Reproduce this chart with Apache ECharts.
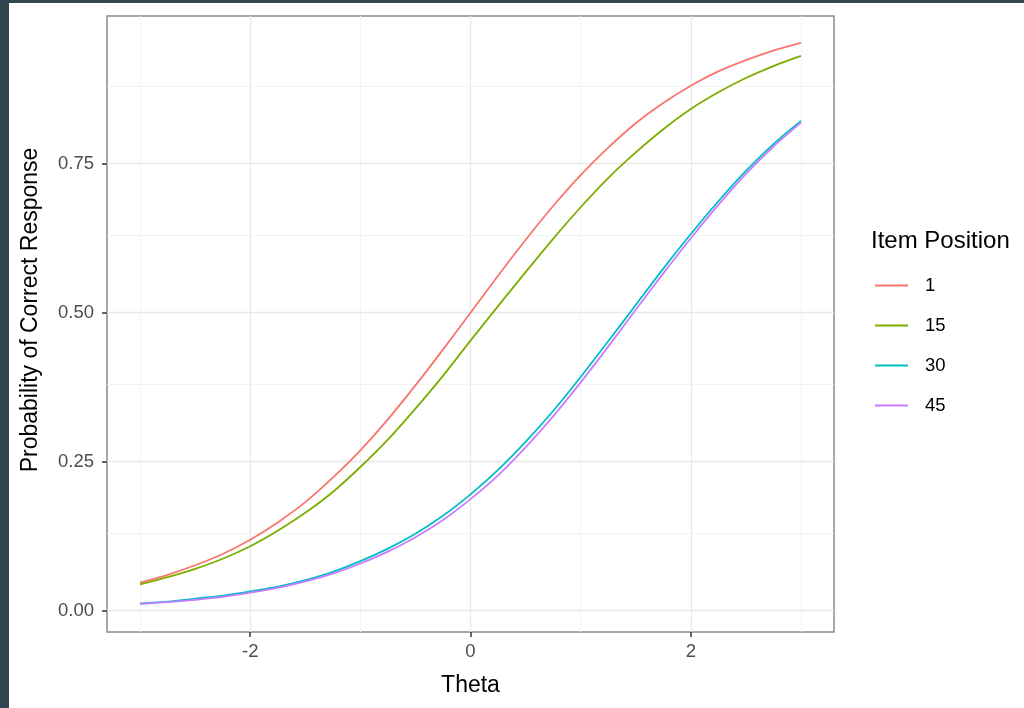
<!DOCTYPE html>
<html>
<head>
<meta charset="utf-8">
<script src="https://cdn.jsdelivr.net/npm/echarts@6/dist/echarts.min.js"></script>
<style>
  html, body { margin: 0; padding: 0; background: #33454f; width: 1024px; height: 708px; overflow: hidden; }
  #chart { position: absolute; left: 9px; top: 3px; width: 1015px; height: 705px; background: #ffffff; }
</style>
</head>
<body>
<div id="chart"></div>
<script>
// Item characteristic curves by item position
const theta = [-3, -2.75, -2.5, -2.25, -2, -1.75, -1.5, -1.25, -1, -0.75, -0.5, -0.25, 0,
               0.25, 0.5, 0.75, 1, 1.25, 1.5, 1.75, 2, 2.25, 2.5, 2.75, 3];

const pos1  = [0.047, 0.060, 0.076, 0.095, 0.119, 0.148, 0.182, 0.223, 0.269, 0.321, 0.378, 0.438, 0.500,
               0.562, 0.622, 0.679, 0.731, 0.777, 0.818, 0.852, 0.881, 0.905, 0.924, 0.940, 0.953];
const pos15 = [0.044, 0.056, 0.070, 0.087, 0.108, 0.134, 0.164, 0.199, 0.241, 0.287, 0.339, 0.394, 0.453,
               0.511, 0.568, 0.624, 0.677, 0.726, 0.769, 0.808, 0.842, 0.870, 0.894, 0.914, 0.931];
const pos30 = [0.012, 0.015, 0.020, 0.025, 0.032, 0.040, 0.051, 0.065, 0.083, 0.104, 0.129, 0.159, 0.195,
               0.236, 0.283, 0.335, 0.392, 0.452, 0.513, 0.574, 0.632, 0.687, 0.738, 0.783, 0.822];
const pos45 = [0.011, 0.014, 0.018, 0.023, 0.030, 0.038, 0.049, 0.062, 0.079, 0.099, 0.123, 0.152, 0.187,
               0.227, 0.274, 0.326, 0.383, 0.443, 0.505, 0.566, 0.625, 0.681, 0.733, 0.779, 0.819];

const seriesNames = ['1', '15', '30', '45'];
const seriesColors = ['#F8766D', '#7CAE00', '#00BFC4', '#C77CFF'];

const xTicks = [-2, 0, 2];
const xMinorGrid = [-3, -1, 1, 3];
const yTicks = [0, 0.25, 0.5, 0.75];
const yMinorGrid = [0.125, 0.375, 0.625, 0.875];

const xRange = [-3.3, 3.3];
const yRange = [-0.036, 0.998];

const majorGrid = { color: '#e8e8e8', width: 1.3, type: 'solid' };
const minorGrid = { color: '#f2f2f2', width: 1, type: 'solid' };

const gridLines = []
  .concat(xTicks.map(v => ({ xAxis: v, lineStyle: majorGrid })))
  .concat(xMinorGrid.map(v => ({ xAxis: v, lineStyle: minorGrid })))
  .concat(yTicks.map(v => ({ yAxis: v, lineStyle: majorGrid })))
  .concat(yMinorGrid.map(v => ({ yAxis: v, lineStyle: minorGrid })));

const curves = [pos1, pos15, pos30, pos45].map((vals, i) => ({
  name: seriesNames[i],
  type: 'line',
  data: theta.map((t, k) => [t, vals[k]]),
  smooth: 0.3,
  showSymbol: false,
  symbol: 'none',
  z: 3,
  lineStyle: { color: seriesColors[i], width: 1.8 },
  itemStyle: { color: seriesColors[i] },
  emphasis: { disabled: true }
}));

const chart = echarts.init(document.getElementById('chart'), null, { renderer: 'canvas' });

const tickLabelStyle = { color: '#4d4d4d', fontSize: 18.5, fontFamily: 'Liberation Sans' };
const titleStyle = { color: '#000000', fontSize: 23, fontFamily: 'Liberation Sans' };

chart.setOption({
  animation: false,
  backgroundColor: '#ffffff',
  title: {
    text: 'Item Position',
    left: 857,
    top: 221,
    textStyle: { color: '#000000', fontSize: 24, fontWeight: 'normal', fontFamily: 'Liberation Sans' }
  },
  legend: {
    orient: 'vertical',
    left: 861,
    top: 267,
    icon: 'rect',
    itemWidth: 33,
    itemHeight: 2,
    itemGap: 19,
    data: seriesNames,
    textStyle: { color: '#000000', fontSize: 18.5, fontFamily: 'Liberation Sans', padding: [0, 0, 0, 12], lineHeight: 21 }
  },
  grid: {
    left: 98,
    top: 13,
    right: 190,
    bottom: 76,
    show: true,
    borderColor: '#8a8a8a',
    borderWidth: 1.5,
    backgroundColor: 'transparent'
  },
  xAxis: {
    type: 'value',
    min: xRange[0],
    max: xRange[1],
    name: 'Theta',
    nameLocation: 'middle',
    nameGap: 42,
    nameTextStyle: titleStyle,
    axisLine: { show: false, onZero: false },
    splitLine: { show: false },
    axisTick: { show: true, customValues: xTicks, length: 5, lineStyle: { color: '#333333', width: 1.5 } },
    axisLabel: { customValues: xTicks, margin: 10, ...tickLabelStyle }
  },
  yAxis: {
    type: 'value',
    min: yRange[0],
    max: yRange[1],
    name: 'Probability of Correct Response',
    nameLocation: 'middle',
    nameGap: 65,
    nameRotate: 90,
    nameTextStyle: { ...titleStyle, padding: [0, 0, 0, 28] },
    axisLine: { show: false, onZero: false },
    splitLine: { show: false },
    axisTick: { show: true, customValues: yTicks, length: 5, lineStyle: { color: '#333333', width: 1.5 } },
    axisLabel: { customValues: yTicks, margin: 13, formatter: v => v.toFixed(2), ...tickLabelStyle }
  },
  series: [{
    name: 'grid',
    type: 'line',
    data: [],
    z: 1,
    silent: true,
    markLine: {
      z: 1,
      silent: true,
      symbol: ['none', 'none'],
      label: { show: false },
      emphasis: { disabled: true },
      data: gridLines
    }
  }].concat(curves)
});
</script>
</body>
</html>
